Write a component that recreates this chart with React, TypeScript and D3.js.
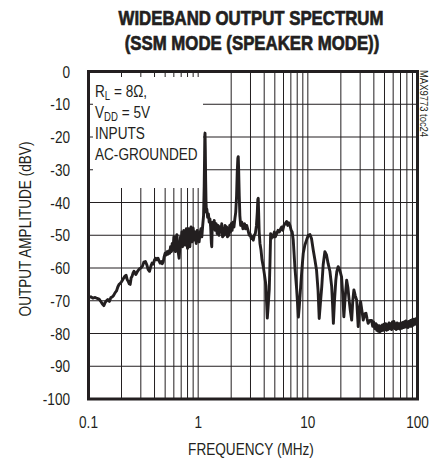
import React from "react";
import * as d3 from "d3";

const freqs: number[] = [
  0.1, 0.105, 0.11, 0.115, 0.12, 0.125, 0.13, 0.134, 0.138, 0.142, 0.146, 0.15, 0.155, 0.16, 0.165, 0.17, 0.175, 0.18, 0.185, 0.19,
  0.195, 0.2, 0.205, 0.21, 0.215, 0.22, 0.225, 0.23, 0.235, 0.24, 0.245, 0.25, 0.255, 0.26, 0.265, 0.27, 0.28, 0.29, 0.3, 0.31,
  0.32, 0.33, 0.34, 0.35, 0.36, 0.37, 0.38, 0.39, 0.4, 0.41, 0.42, 0.43, 0.44, 0.45, 0.46, 0.47, 0.48, 0.49, 0.5, 0.51,
  0.52, 0.53, 0.54, 0.55, 0.56, 0.57, 0.58, 0.59, 0.6, 0.61, 0.62, 0.63, 0.64, 0.65, 0.66, 0.67, 0.68, 0.69, 0.7, 0.71,
  0.72, 0.73, 0.74, 0.75, 0.76, 0.77, 0.78, 0.79, 0.8, 0.81, 0.82, 0.83, 0.84, 0.85, 0.86, 0.87, 0.88, 0.89, 0.9, 0.92,
  0.94, 0.96, 0.98, 1.0, 1.02, 1.04, 1.06, 1.08, 1.1, 1.12, 1.135, 1.145, 1.15, 1.155, 1.162, 1.17, 1.18, 1.19, 1.2, 1.22,
  1.24, 1.26, 1.28, 1.3, 1.32, 1.33, 1.34, 1.36, 1.38, 1.4, 1.43, 1.46, 1.49, 1.52, 1.55, 1.58, 1.61, 1.64, 1.67, 1.7,
  1.73, 1.76, 1.79, 1.82, 1.85, 1.88, 1.91, 1.94, 1.97, 2.0, 2.04, 2.08, 2.12, 2.16, 2.2, 2.24, 2.27, 2.3, 2.32, 2.34,
  2.37, 2.4, 2.44, 2.5, 2.56, 2.6, 2.65, 2.7, 2.77, 2.85, 2.92, 2.97, 3.05, 3.12, 3.18, 3.25, 3.32, 3.4, 3.46, 3.5,
  3.53, 3.56, 3.6, 3.66, 3.74, 3.82, 3.92, 4.0, 4.1, 4.15, 4.2, 4.27, 4.32, 4.4, 4.45, 4.52, 4.58, 4.65, 4.72, 4.84,
  4.95, 5.05, 5.2, 5.35, 5.5, 5.65, 5.77, 5.9, 6.05, 6.2, 6.4, 6.55, 6.7, 6.87, 7.05, 7.2, 7.36, 7.63, 7.91, 8.1,
  8.2, 8.35, 8.6, 8.85, 9.08, 9.4, 9.75, 10.1, 10.45, 10.8, 11.2, 11.6, 12.0, 12.4, 12.7, 13.0, 13.4, 13.8, 14.3, 14.8,
  15.3, 15.9, 16.5, 16.8, 17.1, 17.5, 18.0, 18.4, 18.9, 19.5, 20.3, 20.8, 21.3, 21.9, 22.6, 23.2, 23.8, 24.4, 25.1, 25.7,
  26.3, 27.1, 27.9, 28.8, 29.5, 30.3, 31.1, 32.0, 33.0, 33.9, 34.7, 35.5, 36.8, 38.2, 39.0, 39.8, 40.9, 41.8, 42.5, 43.3,
  44.0, 44.8, 45.4, 46.2, 47.0, 47.9, 48.8, 49.6, 50.5, 51.4, 52.3, 53.2, 54.0, 55.0, 56.0, 57.0, 58.0, 59.0, 60.1, 61.0,
  62.0, 63.0, 64.0, 65.2, 66.5, 67.8, 69.2, 70.5, 72.0, 73.5, 75.0, 76.2, 77.5, 78.5, 79.6, 80.8, 82.0, 83.5, 85.0, 86.5,
  88.0, 89.7, 91.4, 93.0, 95.0, 97.0, 98.5, 100.0,
];

const amplitudes: number[] = [
  -69.0, -68.8, -69.2, -69.0, -69.3, -69.5, -70.3, -71.0, -71.5, -70.5, -70.0, -69.6, -70.2, -69.0, -68.8, -68.3, -67.5, -67.0, -65.8, -65.0,
  -64.7, -64.2, -63.6, -63.0, -62.5, -62.2, -63.5, -64.0, -64.8, -65.0, -63.0, -62.5, -61.5, -61.0, -61.5, -62.0, -61.0, -60.3, -60.0, -59.5,
  -58.2, -58.0, -59.0, -60.5, -61.0, -59.5, -58.5, -58.8, -57.5, -57.0, -57.5, -57.0, -57.8, -58.5, -58.0, -58.7, -58.2, -56.5, -55.5, -56.0,
  -55.0, -55.8, -54.8, -55.5, -53.5, -55.0, -52.5, -54.5, -50.5, -53.5, -55.0, -51.0, -49.8, -53.0, -55.5, -57.0, -54.0, -50.5, -52.0, -49.0,
  -53.5, -50.0, -48.5, -51.0, -53.0, -49.5, -48.0, -51.5, -54.0, -50.0, -48.0, -50.5, -53.5, -49.5, -47.5, -49.0, -52.0, -50.0, -47.8, -51.5,
  -49.0, -52.5, -48.5, -50.0, -52.0, -49.5, -48.0, -50.5, -47.0, -44.0, -35.0, -25.0, -19.5, -18.8, -24.0, -33.0, -40.0, -43.0, -42.0, -44.5,
  -43.5, -46.0, -45.0, -47.5, -52.5, -53.5, -49.0, -46.0, -47.5, -45.5, -48.5, -46.5, -49.5, -47.0, -50.0, -47.5, -49.0, -46.5, -50.5, -48.0,
  -50.0, -47.0, -49.5, -47.5, -50.5, -48.0, -50.0, -47.0, -49.0, -46.5, -48.5, -46.0, -47.5, -45.0, -43.0, -38.0, -31.0, -26.5, -26.0, -30.0,
  -38.0, -44.0, -47.0, -46.0, -48.0, -47.0, -46.5, -48.0, -47.0, -48.5, -50.0, -49.5, -51.0, -50.5, -51.5, -50.0, -49.5, -47.0, -43.0, -39.0,
  -38.7, -43.0, -49.0, -52.5, -54.5, -57.5, -59.5, -61.5, -64.0, -65.5, -70.0, -75.3, -73.0, -69.0, -66.5, -58.0, -49.5, -51.0, -50.0, -50.5,
  -49.0, -50.5, -49.5, -48.5, -49.0, -48.0, -47.5, -48.5, -47.0, -46.5, -45.8, -47.0, -46.2, -47.0, -48.5, -49.0, -51.4, -60.0, -66.5, -72.0,
  -75.0, -72.0, -65.7, -60.0, -55.5, -53.0, -51.4, -50.0, -49.8, -51.0, -54.5, -57.5, -60.6, -67.0, -75.4, -71.0, -65.7, -59.0, -55.0, -56.0,
  -58.6, -61.0, -65.7, -71.0, -76.9, -70.0, -63.7, -61.0, -59.6, -60.5, -62.7, -68.0, -74.9, -69.0, -63.7, -66.0, -69.8, -73.0, -75.9, -70.0,
  -66.7, -68.5, -69.8, -77.9, -73.0, -70.3, -73.0, -75.9, -74.0, -73.8, -75.5, -76.9, -76.0, -76.0, -77.8, -76.5, -78.5, -77.0, -79.0, -77.5,
  -79.3, -77.6, -79.5, -77.8, -79.2, -77.4, -79.0, -77.2, -78.8, -77.0, -79.0, -77.3, -78.8, -76.8, -78.5, -77.0, -78.8, -76.5, -78.2, -76.3,
  -78.5, -77.0, -78.8, -76.8, -78.5, -77.0, -78.6, -76.8, -78.4, -76.6, -78.2, -76.4, -78.0, -76.2, -78.0, -76.5, -78.2, -76.3, -77.8, -76.0,
  -77.8, -75.8, -77.5, -75.6, -77.2, -75.5, -76.8, -75.5,
];

const yTicks: number[] = [0, -10, -20, -30, -40, -50, -60, -70, -80, -90, -100];
const xTickLabels: { v: number; t: string }[] = [
  { v: 0.1, t: "0.1" },
  { v: 1, t: "1" },
  { v: 10, t: "10" },
  { v: 100, t: "100" },
];
const titleLines: string[] = ["WIDEBAND OUTPUT SPECTRUM", "(SSM MODE (SPEAKER MODE))"];
const xAxisTitle = "FREQUENCY (MHz)";
const yAxisTitle = "OUTPUT AMPLITUDE (dBV)";
const sideNote = "MAX9773 toc24";

const FONT = "'Liberation Sans', Arial, Helvetica, sans-serif";
const ink = "#231f20";

type NTProps = {
  x: number;
  y: number;
  size: number;
  sx?: number;
  rot?: number;
  anchor?: "start" | "middle" | "end";
  bold?: boolean;
  children: React.ReactNode;
};

function NText({ x, y, size, sx = 0.8, rot = 0, anchor = "start", bold = false, children }: NTProps) {
  return (
    <text
      transform={`translate(${x},${y}) rotate(${rot}) scale(${sx},1)`}
      fontFamily={FONT}
      fontSize={size}
      fontWeight={bold ? "bold" : "normal"}
      textAnchor={anchor}
      fill={ink}
      stroke={bold ? ink : "none"}
      strokeWidth={bold ? 0.7 : 0}
    >
      {children}
    </text>
  );
}

export default function App() {
  const W = 429;
  const H = 458;
  const L = 88.5, R = 417.5, T = 71.5, B = 399;
  const x = d3.scaleLog().domain([0.1, 100]).range([L, R]);
  const y = d3.scaleLinear().domain([-100, 0]).range([B, T]);

  const gridX: number[] = [];
  [0.1, 1, 10].forEach((d) => {
    for (let k = 2; k <= 9; k++) gridX.push(d * k);
  });
  gridX.push(1, 10);

  const data = freqs.map((f, i) => [f, amplitudes[i]] as [number, number]);
  const line = d3
    .line<[number, number]>()
    .x((d) => x(d[0]))
    .y((d) => y(d[1]));

  const boxX = L + 4.5, boxY = T + 5.5, boxR = 203, boxB = 188;

  return (
    <svg width={W} height={H} style={{ position: "absolute", left: 0, top: 0, background: "#fff" }}>
      <rect x={0} y={0} width={W} height={H} fill="#fff" />
      <NText x={251} y={25} size={20} sx={0.84} anchor="middle" bold>
        {titleLines[0]}
      </NText>
      <NText x={252} y={50} size={20} sx={0.84} anchor="middle" bold>
        {titleLines[1]}
      </NText>

      {gridX.map((v, i) => (
        <line key={"gx" + i} x1={x(v)} x2={x(v)} y1={T} y2={B} stroke={ink} strokeWidth={1} />
      ))}
      {yTicks.map((v, i) => (
        <line key={"gy" + i} x1={L} x2={R} y1={y(v)} y2={y(v)} stroke={ink} strokeWidth={1} />
      ))}

      <rect x={boxX} y={boxY} width={boxR - boxX} height={boxB - boxY} fill="#fff" />
      <NText x={95} y={97} size={17}>
        R<tspan fontSize={12} dy={3}>L</tspan>
        <tspan dy={-3}> = 8Ω,</tspan>
      </NText>
      <NText x={95} y={118} size={17}>
        V<tspan fontSize={12} dy={3}>DD</tspan>
        <tspan dy={-3}> = 5V</tspan>
      </NText>
      <NText x={95} y={139} size={17}>INPUTS</NText>
      <NText x={95} y={160} size={17}>AC-GROUNDED</NText>

      <path d={line(data) || ""} fill="none" stroke={ink} strokeWidth={2.9} strokeLinejoin="round" />

      <rect x={L} y={T} width={R - L} height={B - T} fill="none" stroke={ink} strokeWidth={3} />

      {yTicks.map((v, i) => (
        <NText key={"yl" + i} x={70} y={y(v) + 6} size={17} anchor="end">
          {v}
        </NText>
      ))}
      {xTickLabels.map((d, i) => (
        <NText key={"xl" + i} x={x(d.v)} y={428} size={17} anchor="middle">
          {d.t}
        </NText>
      ))}
      <NText x={251} y={455} size={17} anchor="middle">
        {xAxisTitle}
      </NText>
      <NText x={31} y={229} size={17} rot={-90} anchor="middle">
        {yAxisTitle}
      </NText>
      <NText x={420} y={70} size={10.5} sx={0.9} rot={90}>
        {sideNote}
      </NText>
    </svg>
  );
}
